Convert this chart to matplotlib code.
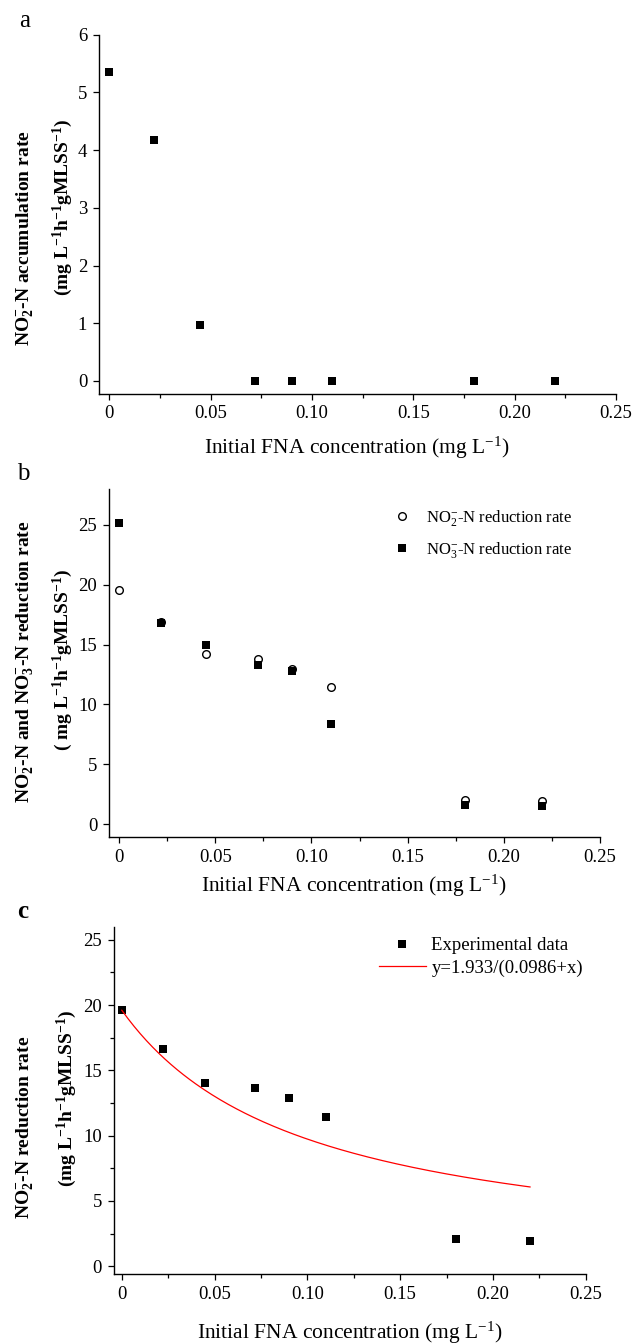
import matplotlib
matplotlib.use('Agg')
import matplotlib.pyplot as plt
import numpy as np
from matplotlib.ticker import MultipleLocator, FixedLocator, FixedFormatter

plt.rcParams['font.family'] = ['Liberation Serif', 'DejaVu Serif']
plt.rcParams['mathtext.fontset'] = 'custom'
plt.rcParams['mathtext.rm'] = 'Liberation Serif'
plt.rcParams['mathtext.it'] = 'Liberation Serif:italic'
plt.rcParams['mathtext.bf'] = 'Liberation Serif:bold'

# ---------------- data ----------------
fna = [0.0, 0.022, 0.045, 0.072, 0.090, 0.110, 0.180, 0.220]
no2_accum = [5.35, 4.18, 0.97, 0.0, 0.0, 0.0, 0.0, 0.0]
no2_red_b = [19.6, 16.9, 14.2, 13.8, 13.0, 11.45, 2.0, 1.9]
no3_red_b = [25.2, 16.8, 15.0, 13.3, 12.75, 8.4, 1.6, 1.5]
no2_red_c = [19.6, 16.65, 14.0, 13.65, 12.9, 11.4, 2.1, 1.9]
fit_a = 1.933
fit_b = 0.0986
fit_xmax = 0.22
x_ticks = [0, 0.05, 0.10, 0.15, 0.20, 0.25]
x_ticklabels = ['0', '0.05', '0.10', '0.15', '0.20', '0.25']
ya_ticks = [0, 1, 2, 3, 4, 5, 6]
yb_ticks = [0, 5, 10, 15, 20, 25]
yc_ticks = [0, 5, 10, 15, 20, 25]

W, H = 634, 1344
fig = plt.figure(figsize=(W / 100, H / 100), dpi=100)


def ax_px(l, r, t, b):
    return fig.add_axes([l / W, 1 - b / H, (r - l) / W, (b - t) / H])


def style(ax, yminor=None):
    for s in ['top', 'right']:
        ax.spines[s].set_visible(False)
    for s in ['left', 'bottom']:
        ax.spines[s].set_linewidth(1.0)
    ax.xaxis.set_major_locator(FixedLocator(x_ticks))
    ax.xaxis.set_major_formatter(FixedFormatter(x_ticklabels))
    ax.xaxis.set_minor_locator(MultipleLocator(0.025))
    if yminor:
        ax.yaxis.set_minor_locator(MultipleLocator(yminor))
    ax.tick_params(which='major', direction='out', length=4.5, width=0.9,
                   labelsize=13.5, pad=4)
    ax.tick_params(which='minor', direction='out', length=3, width=0.9)
    ax.tick_params(axis='y', which='minor', left=bool(yminor))


xlabel = r'Initial FNA concentration (mg L$^{\mathregular{-1}}$)'
units = r'(mg L$^{\mathregular{-1}}$h$^{\mathregular{-1}}$gMLSS$^{\mathregular{-1}}$)'

# ---------------- panel a ----------------
axa = ax_px(99, 616, 34.7, 393.6)
axa.plot(fna, no2_accum, 's', color='black', ms=5.2, mew=0)
axa.set_xlim(-0.005, 0.25)
axa.set_ylim(-0.22, 6)
axa.set_yticks(ya_ticks)
style(axa)
fig.text(25 / W, 1 - 21 / H, 'a', fontsize=18, ha='center', va='center')
fig.text(357 / W, 1 - 448 / H, xlabel, fontsize=15.5, ha='center', va='center')
fig.text(25 / W, 1 - 238 / H,
         r'NO$_{\mathregular{2}}^{\mathregular{-}}$-N accumulation rate',
         fontsize=14, fontweight='bold', rotation=90, ha='center', va='center')
fig.text(63 / W, 1 - 207 / H, units, fontsize=14, fontweight='bold',
         rotation=90, ha='center', va='center')

# ---------------- panel b ----------------
axb = ax_px(109, 600, 489, 837)
axb.plot(fna, no2_red_b, 'o', mfc='white', mec='black', mew=1.0, ms=5.5,
         label=r'NO$_{\mathregular{2}}^{\mathregular{-}}$-N reduction rate')
axb.plot(fna, no3_red_b, 's', color='black', ms=5.5, mew=0,
         label=r'NO$_{\mathregular{3}}^{\mathregular{-}}$-N reduction rate')
axb.set_xlim(-0.0052, 0.25)
axb.set_ylim(-1.08, 28)
axb.set_yticks(yb_ticks)
style(axb)
axb.legend(loc='upper left', bbox_to_anchor=(394 / W, 1 - 508 / H),
           bbox_transform=fig.transFigure, frameon=False, fontsize=12,
           handlelength=1.0, handletextpad=0.95, labelspacing=0.7,
           borderpad=0, borderaxespad=0)
fig.text(23 / W, 1 - 474 / H, 'b', fontsize=18, ha='center', va='center')
fig.text(354 / W, 1 - 886 / H, xlabel, fontsize=15.5, ha='center', va='center')
fig.text(25 / W, 1 - 662 / H,
         r'NO$_{\mathregular{2}}^{\mathregular{-}}$-N and NO$_{\mathregular{3}}^{\mathregular{-}}$-N reduction rate',
         fontsize=14, fontweight='bold', rotation=90, ha='center', va='center')
fig.text(63 / W, 1 - 660 / H, '( ' + units[1:], fontsize=14, fontweight='bold',
         rotation=90, ha='center', va='center')

# ---------------- panel c ----------------
axc = ax_px(113.6, 585.7, 926.7, 1274)
axc.plot(fna, no2_red_c, 's', color='black', ms=5.5, mew=0,
         label='Experimental data')
xf = np.linspace(0, fit_xmax, 200)
axc.plot(xf, fit_a / (fit_b + xf), '-', color='#ff0000', lw=0.9,
         label='y=%.3f/(%.4f+x)' % (fit_a, fit_b))
axc.set_xlim(-0.0044, 0.25)
axc.set_ylim(-0.6, 26)
axc.set_yticks(yc_ticks)
style(axc, yminor=2.5)
axc.legend(loc='upper left', bbox_to_anchor=(379 / W, 1 - 937 / H),
           bbox_transform=fig.transFigure, frameon=False, fontsize=13.5,
           handlelength=2.5, handletextpad=0.3, labelspacing=0.3,
           borderpad=0, borderaxespad=0)
fig.text(23 / W, 1 - 912 / H, 'c', fontsize=18, fontweight='bold',
         ha='center', va='center')
fig.text(350 / W, 1 - 1333 / H, xlabel, fontsize=15.5, ha='center', va='center')
fig.text(25 / W, 1 - 1127 / H,
         r'NO$_{\mathregular{2}}^{\mathregular{-}}$-N reduction rate',
         fontsize=14, fontweight='bold', rotation=90, ha='center', va='center')
fig.text(67 / W, 1 - 1098 / H, units, fontsize=14, fontweight='bold',
         rotation=90, ha='center', va='center')

fig.savefig('out.png', dpi=100)
